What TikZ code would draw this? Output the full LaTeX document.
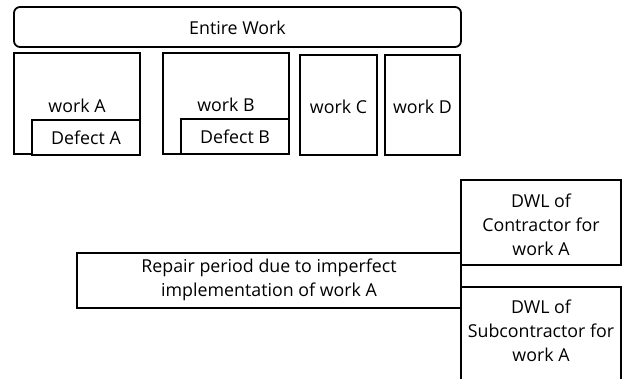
\documentclass[tikz,border=0pt]{standalone}
\usepackage{fontspec}
\setmainfont{Open Sans}
\begin{document}
\begin{tikzpicture}[x=1pt,y=-1pt,
  box/.style={draw=black,line width=1.8pt,fill=white,inner sep=0pt},
  txt/.style={inner sep=0pt,align=center,font=\fontsize{17.8}{24}\selectfont}]
\useasboundingbox (0,0) rectangle (626,378);
\clip (0,0) rectangle (626,378);
% top row
\node[box,rounded corners=6pt,minimum width=447,minimum height=40] (entire) at (237.5,27) {};
\node[txt] (entiret) at (237.5,28) {Entire Work};
\node[box,minimum width=126,minimum height=101] (wA) at (77,103.5) {};
\node[txt] (wAt) at (77,106) {work A};
\node[box,minimum width=108,minimum height=35] (dA) at (86,137.5) {};
\node[txt] (dAt) at (86,138) {Defect A};
\node[box,minimum width=126,minimum height=101] (wB) at (226,103.5) {};
\node[txt] (wBt) at (226,105) {work B};
\node[box,minimum width=108,minimum height=35] (dB) at (235,136.5) {};
\node[txt] (dBt) at (235,137) {Defect B};
\node[box,minimum width=77,minimum height=100] (wC) at (338.5,105) {};
\node[txt] (wCt) at (338.5,107) {work C};
\node[box,minimum width=75,minimum height=100] (wD) at (422.5,105) {};
\node[txt] (wDt) at (422.5,107) {work D};
% bottom
\node[box,minimum width=384,minimum height=55] (rep) at (269,280.5) {};
\node[txt] (rept) at (269,280) {Repair period due to imperfect\\implementation of work A};
\node[box,minimum width=160,minimum height=85] (dwlc) at (541,222.5) {};
\node[txt] (dwlct) at (541,225) {DWL of\\Contractor for\\work A};
\node[box,minimum width=160,minimum height=113] (dwls) at (541,343.5) {};
\node[txt] (dwlst) at (541,331) {DWL of\\Subcontractor for\\work A};
\end{tikzpicture}
\end{document}
